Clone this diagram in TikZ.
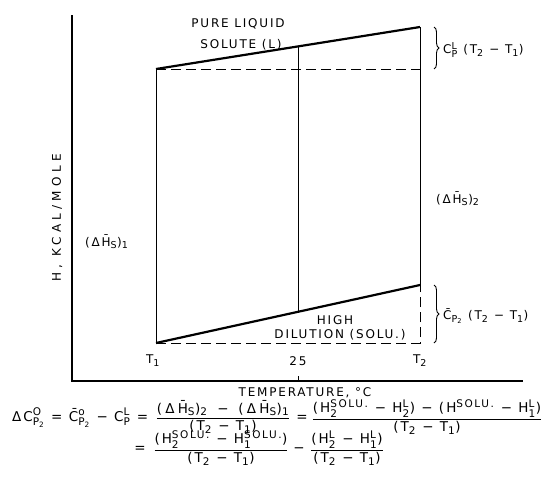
\documentclass[tikz,border=0pt]{standalone}
\usepackage{fontspec}
\usepackage{amsmath}
\setmainfont{DejaVu Sans}[LetterSpace=15]
\usetikzlibrary{decorations.pathreplacing}
\DeclareMathSizes{12}{12}{9.5}{7.5}
\DeclareMathSizes{13.5}{13.5}{10.5}{8}
\newcommand\myhi[1]{\ensuremath{^{\text{#1}}}}
\newcommand\mylo[1]{\ensuremath{_{\text{#1}}}}
\newcommand\myhl[2]{\ensuremath{^{\text{#1}}_{\text{#2}}}}
\newcommand\myfr[2]{\ensuremath{\vcenter{\offinterlineskip\halign{\hfil##\hfil\cr \rule[-3.5pt]{0pt}{13pt}#1\cr \noalign{\kern1.5pt\hrule height 1pt\kern1.5pt} \rule[-3.5pt]{0pt}{12pt}#2\cr}}}}
\tikzset{
  lbl/.style={inner sep=0pt, font=\fontsize{12}{14}\selectfont},
  eqn/.style={inner sep=0pt, anchor=base, font=\fontsize{13.5}{16}\selectfont},
  axis/.style={line width=1.3pt},
  thinln/.style={line width=0.9pt},
  thickln/.style={line width=2.2pt},
  dashln/.style={line width=1pt, dash pattern=on 10pt off 5pt},
  bracestyle/.style={line width=0.9pt, decorate, decoration={brace, amplitude=5pt}}
}
\begin{document}
\begin{tikzpicture}[x=1pt, y=-1pt]
\useasboundingbox (0,0) rectangle (545,501);
% key points
\coordinate (O) at (72,381);
\coordinate (Ytop) at (72,15);
\coordinate (Xend) at (523,381);
\coordinate (A) at (156,69);
\coordinate (B) at (420,27);
\coordinate (M) at (298,47);
\coordinate (C) at (156,343);
\coordinate (D) at (420,285);
\coordinate (N) at (298,312);
\coordinate (Bd) at (420,69);
\coordinate (Dd) at (420,343);
\coordinate (Tk1) at (298,381);
\coordinate (Tk2) at (298,376);
\coordinate (Br1a) at (434,27);
\coordinate (Br1b) at (434,69);
\coordinate (Br2a) at (434,285);
\coordinate (Br2b) at (434,343);
% axes
\draw[axis] (Ytop) -- (O) -- (Xend);
\draw[thinln] (Tk1) -- (Tk2);
% verticals
\draw[thinln] (A) -- (C);
\draw[thinln] (B) -- (D);
\draw[thinln] (M) -- (N);
% sloped lines
\draw[thickln] (A) -- (B);
\draw[thickln] (C) -- (D);
% dashed
\draw[dashln] (A) -- (Bd);
\draw[dashln] (C) -- (Dd) -- (D);
% braces
\draw[bracestyle] (Br1a) -- (Br1b);
\draw[bracestyle] (Br2a) -- (Br2b);
% labels
\node[lbl] (pl) at (238,24) {PURE LIQUID};
\node[lbl] (sl) at (241,45) {SOLUTE (L)};
\node[lbl, anchor=west] (cpl) at (443,50) {C\myhl{L}{P} (T\mylo{2} − T\mylo{1})};
\node[lbl, anchor=west] (dh2) at (436,199) {(Δ\={H}\mylo{S})\mylo{2}};
\node[lbl, anchor=west] (dh1) at (85,242) {(Δ\={H}\mylo{S})\mylo{1}};
\node[lbl, rotate=90] (ylab) at (57,218) {\addfontfeature{LetterSpace=35}H, KCAL/MOLE};
\node[lbl] (hi) at (335,320) {HIGH};
\node[lbl] (dil) at (340,335) {DILUTION (SOLU.)};
\node[lbl, anchor=west] (cp2) at (443,316) {\={C}\mylo{P\mylo{2}} (T\mylo{2} − T\mylo{1})};
\node[lbl] (t1) at (153,361) {T\mylo{1}};
\node[lbl] (t25) at (298,361) {25};
\node[lbl] (t2) at (420,361) {T\mylo{2}};
\node[lbl] (xlab) at (305,393) {TEMPERATURE, °C};
% equation, line 1
\node[eqn, anchor=base west] (eqL) at (12,421) {ΔC\myhl{O}{P\mylo{2}} = \={C}\myhl{o}{P\mylo{2}} − C\myhl{L}{P} =};
\node[eqn] (eqF1) at (223,421) {\myfr{\addfontfeature{LetterSpace=24}(Δ\={H}\mylo{S})\mylo{2} \,−\, (Δ\={H}\mylo{S})\mylo{1}}{(T\mylo{2} − T\mylo{1})}};
\node[eqn] (eqE2) at (302,421) {=};
\node[eqn] (eqF2) at (427,421) {\myfr{(H\myhl{SOLU.}{2} − H\myhl{L}{2}) − (H\myhi{SOLU.} − H\myhl{L}{1})}{(T\mylo{2} − T\mylo{1})}};
% equation, line 2
\node[eqn] (eqE3) at (140,452) {=};
\node[eqn] (eqF3) at (221,452) {\myfr{(H\myhl{SOLU.}{2} − H\myhl{SOLU.}{1})}{(T\mylo{2} − T\mylo{1})}};
\node[eqn] (eqM) at (299,452) {−};
\node[eqn] (eqF4) at (347,452) {\myfr{(H\myhl{L}{2} − H\myhl{L}{1})}{(T\mylo{2} − T\mylo{1})}};
\end{tikzpicture}
\end{document}
